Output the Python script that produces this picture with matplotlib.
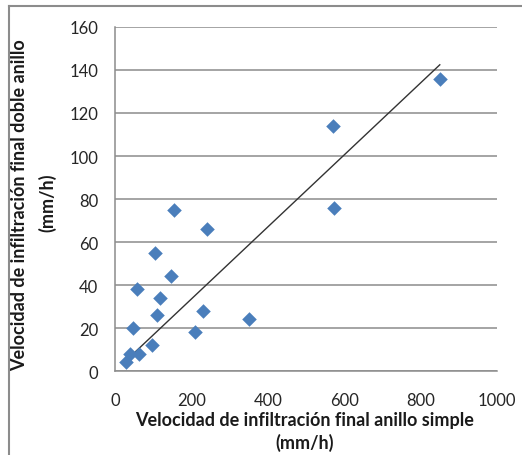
import numpy as np
import matplotlib
matplotlib.use("Agg")
import matplotlib.pyplot as plt
from matplotlib.lines import Line2D

# infiltration rates (mm/h): single ring vs double ring
anillo_simple = [850, 571, 573, 154, 241, 105, 147, 58, 118, 110,
                 230, 351, 47, 210, 97, 63, 39, 30]
doble_anillo = [136, 114, 76, 75, 66, 55, 44, 38, 34, 26,
                28, 24, 20, 18, 12, 8, 8, 4]

x_ticks = [0, 200, 400, 600, 800, 1000]
y_ticks = [0, 20, 40, 60, 80, 100, 120, 140, 160]

plt.rcParams['font.family'] = ['Lato', 'DejaVu Sans']

x = np.array(anillo_simple, dtype=float)
y = np.array(doble_anillo, dtype=float)

fig = plt.figure(figsize=(5.22, 4.56), dpi=100)
ax = fig.add_axes([0.2203, 0.1842, 0.732, 0.7544])

ax.scatter(x, y, marker='D', s=55, color='#4A7EBB', zorder=3, linewidths=0)

# linear trend line forced through the origin
m = np.sum(x * y) / np.sum(x * x)
xs = np.array([x.min(), x.max()])
ax.plot(xs, m * xs, color='#333333', lw=1.0, zorder=2)

ax.set_xlim(0, 1000)
ax.set_ylim(0, 160)
ax.set_xticks(x_ticks)
ax.set_yticks(y_ticks)
ax.yaxis.grid(True, color='#8c8c8c', lw=1.1)
ax.set_axisbelow(True)
for s in ['top', 'right']:
    ax.spines[s].set_visible(False)
for s in ['left', 'bottom']:
    ax.spines[s].set_color('#8c8c8c')
    ax.spines[s].set_linewidth(1.1)
ax.tick_params(axis='both', length=0, labelsize=12, labelcolor='#262626')
ax.tick_params(axis='y', pad=12)
ax.tick_params(axis='x', pad=15)

fig.text(0.584, 0.077, 'Velocidad de infiltración final anillo simple',
         ha='center', va='center', fontsize=13, fontweight='bold', color='#1a1a1a')
fig.text(0.584, 0.029, '(mm/h)', ha='center', va='center',
         fontsize=13, fontweight='bold', color='#1a1a1a')
fig.text(0.038, 0.55, 'Velocidad de infiltración final doble anillo',
         ha='center', va='center', rotation=90, fontsize=13,
         fontweight='bold', color='#1a1a1a')
fig.text(0.090, 0.555, '(mm/h)', ha='center', va='center', rotation=90,
         fontsize=13, fontweight='bold', color='#1a1a1a')

# chart frame
fig.add_artist(Line2D([8.5 / 522, 1], [1 - 6.5 / 456] * 2, color='#8c8c8c', lw=1.5))
fig.add_artist(Line2D([8.5 / 522] * 2, [0, 1 - 6.5 / 456], color='#8c8c8c', lw=1.5))

fig.savefig('out.png', dpi=100)
